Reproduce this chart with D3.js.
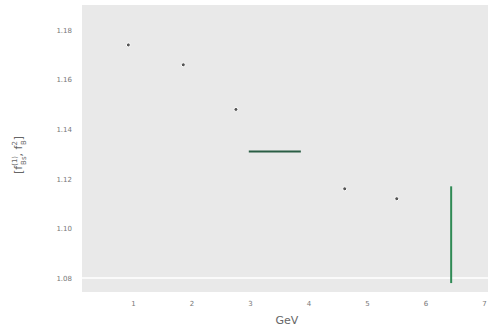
<!DOCTYPE html>
<meta charset="utf-8">
<html>
<head>
    <style>
        body { margin: 0; background: #fff; }
        text { font-family: "DejaVu Sans", sans-serif; }
    </style>
    <script src="https://d3js.org/d3.v7.min.js"></script>
</head>
<body>
    <div id="chart"></div>
    <script>
        // data
        var pointX = [0.92, 1.86, 2.76, 4.62, 5.51];
        var pointY = [1.174, 1.166, 1.148, 1.116, 1.112];
        var bandX = [2.98, 3.87];      // horizontal segment
        var bandY = 1.131;
        var barX = 6.44;               // vertical segment
        var barY = [1.078, 1.117];
        var xTicks = [1, 2, 3, 4, 5, 6, 7];
        var yTicks = [1.08, 1.10, 1.12, 1.14, 1.16, 1.18];
        var refLine = 1.08;

        var W = 488, H = 330;
        var margin = { top: 5, right: 0, bottom: 38, left: 82 };
        var width = W - margin.left - margin.right,
            height = H - margin.top - margin.bottom;

        var svg = d3.select("#chart").append("svg")
            .attr("width", W)
            .attr("height", H);

        var g = svg.append("g")
            .attr("transform", "translate(" + margin.left + "," + margin.top + ")");

        var x = d3.scaleLinear().domain([0.128, 7.07]).range([0, width]);
        var y = d3.scaleLinear().domain([1.0744, 1.1901]).range([height, 0]);

        // background panel
        g.append("rect")
            .attr("width", width)
            .attr("height", height)
            .attr("fill", "#e9e9e9");

        // white reference line
        g.append("line")
            .attr("x1", 0).attr("x2", width)
            .attr("y1", y(refLine)).attr("y2", y(refLine))
            .attr("stroke", "#fff")
            .attr("stroke-width", 1.5);

        // axes
        var xAxis = g.append("g")
            .attr("transform", "translate(0," + height + ")")
            .call(d3.axisBottom(x).tickValues(xTicks).tickSize(0).tickPadding(9)
                .tickFormat(d3.format("d")));
        var yAxis = g.append("g")
            .call(d3.axisLeft(y).tickValues(yTicks).tickSize(0).tickPadding(10)
                .tickFormat(d3.format(".2f")));
        [xAxis, yAxis].forEach(function (a) {
            a.select(".domain").remove();
            a.selectAll("text").attr("fill", "#777").attr("font-size", 7);
        });

        // segments
        g.append("line")
            .attr("x1", x(bandX[0])).attr("x2", x(bandX[1]))
            .attr("y1", y(bandY)).attr("y2", y(bandY))
            .attr("stroke", "#2b5e45")
            .attr("stroke-width", 2);
        g.append("line")
            .attr("x1", x(barX)).attr("x2", x(barX))
            .attr("y1", y(barY[0])).attr("y2", y(barY[1]))
            .attr("stroke", "#2f8a55")
            .attr("stroke-width", 2);

        // points
        g.selectAll("circle.pt")
            .data(pointX.map(function (d, i) { return [d, pointY[i]]; }))
            .enter().append("circle")
            .attr("class", "pt")
            .attr("cx", function (d) { return x(d[0]); })
            .attr("cy", function (d) { return y(d[1]); })
            .attr("r", 2)
            .attr("fill", "#555")
            .attr("stroke", "#fff")
            .attr("stroke-width", 1);

        // axis labels
        svg.append("text")
            .attr("x", margin.left + width / 2 + 2)
            .attr("y", 324)
            .attr("text-anchor", "middle")
            .attr("font-size", 11)
            .attr("fill", "#666")
            .text("GeV");

        var yl = svg.append("text")
            .attr("transform", "translate(22,155) rotate(-90)")
            .attr("text-anchor", "middle")
            .attr("font-size", 11)
            .attr("fill", "#666");
        yl.append("tspan").text("[f");
        yl.append("tspan").attr("font-size", 7).attr("dy", -5).text("(1)");
        yl.append("tspan").attr("font-size", 7).attr("dy", 9).attr("dx", -9).text("Bs");
        yl.append("tspan").attr("dy", -4).text(", f");
        yl.append("tspan").attr("font-size", 7).attr("dy", -5).text("2");
        yl.append("tspan").attr("font-size", 7).attr("dy", 9).attr("dx", -4).text("B");
        yl.append("tspan").attr("dy", -4).text("]");
    </script>
</body>
</html>
